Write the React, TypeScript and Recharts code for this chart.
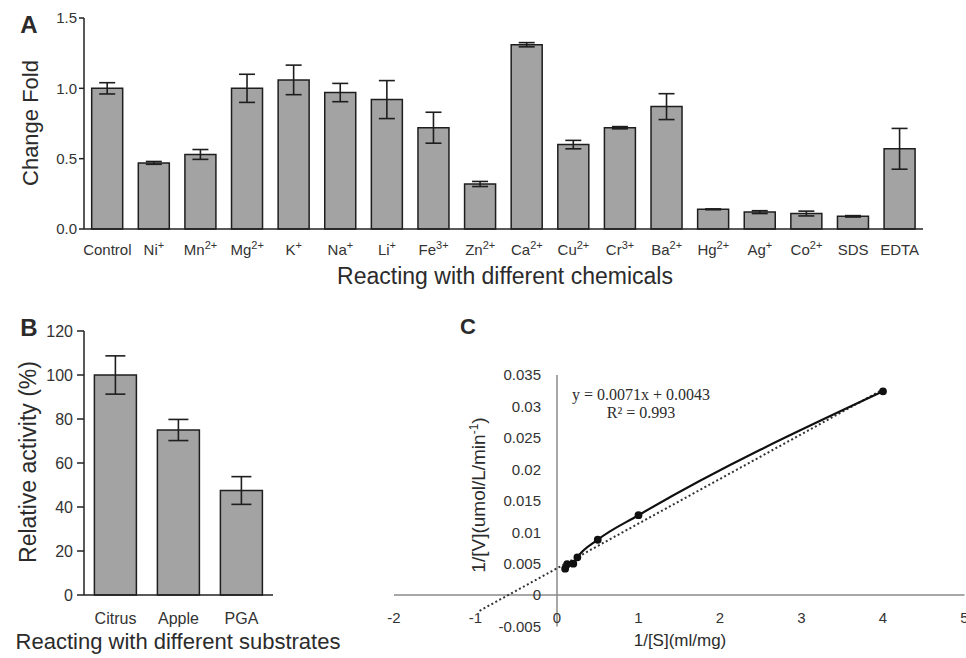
import React from "react";
import {
  BarChart,
  Bar,
  XAxis,
  YAxis,
  ErrorBar,
  ComposedChart,
  Line,
  ReferenceLine,
  ReferenceDot,
} from "recharts";

// panel A - metal ions / chemicals
const chemNames = ["Control", "Ni", "Mn", "Mg", "K", "Na", "Li", "Fe", "Zn", "Ca", "Cu", "Cr", "Ba", "Hg", "Ag", "Co", "SDS", "EDTA"];
const chemCharges = ["", "+", "2+", "2+", "+", "+", "+", "3+", "2+", "2+", "2+", "3+", "2+", "2+", "+", "2+", "", ""];
const foldValues = [1.0, 0.47, 0.53, 1.0, 1.06, 0.97, 0.92, 0.72, 0.32, 1.31, 0.6, 0.72, 0.87, 0.14, 0.12, 0.11, 0.09, 0.57];
const foldErrors = [0.04, 0.01, 0.035, 0.1, 0.105, 0.065, 0.135, 0.11, 0.018, 0.015, 0.03, 0.008, 0.092, 0.003, 0.01, 0.017, 0.005, 0.145];
const foldTicks = [0, 0.5, 1.0, 1.5];

// panel B - substrates
const substrates = ["Citrus", "Apple", "PGA"];
const activityValues = [100, 75, 47.5];
const activityErrors = [8.7, 4.8, 6.3];
const activityTicks = [0, 20, 40, 60, 80, 100, 120];

// panel C - Lineweaver-Burk
const invS = [0.1, 0.125, 0.2, 0.25, 0.5, 1, 4];
const invV = [0.0042, 0.0049, 0.005, 0.006, 0.0088, 0.0127, 0.0324];
const trendX = [-0.95, 4];
const trendY = [-0.0025, 0.0327];
const kinXTicks = [-2, -1, 0, 1, 2, 3, 4, 5];
const kinYTicks = [-0.005, 0, 0.005, 0.01, 0.015, 0.02, 0.025, 0.03, 0.035];

const foldData = chemNames.map((n, i) => ({ name: n, value: foldValues[i], err: foldErrors[i] }));
const activityData = substrates.map((n, i) => ({ name: n, value: activityValues[i], err: activityErrors[i] }));
const kinData = invS.map((x, i) => ({ x, y: invV[i] }));
const trendData = trendX.map((x, i) => ({ x, y: trendY[i] }));

const SANS = "'Liberation Sans', Arial, sans-serif";
const INK = "#2b2b2b";

const ChemTick = (props: any) => {
  const { x, y, payload } = props;
  const i = chemNames.indexOf(payload.value);
  return (
    <text x={x} y={y} dy={24} textAnchor="middle" fill="#333" fontSize={15} fontFamily={SANS}>
      {chemNames[i]}
      {chemCharges[i] ? (
        <tspan dy={-6} fontSize={11}>
          {chemCharges[i]}
        </tspan>
      ) : null}
    </text>
  );
};

const SubTick = (props: any) => {
  const { x, y, payload } = props;
  return (
    <text x={x} y={y} dy={27} textAnchor="middle" fill="#333" fontSize={16} fontFamily={SANS}>
      {payload.value}
    </text>
  );
};

const Caption = ({ x, y, size, bold, rotate, serif, children }: any) => (
  <div
    style={{
      position: "absolute",
      left: x,
      top: y,
      transform: `translate(-50%, -50%)${rotate ? " rotate(-90deg)" : ""}`,
      fontSize: size,
      fontWeight: bold ? 700 : 400,
      whiteSpace: "nowrap",
      lineHeight: 1,
      color: INK,
      fontFamily: serif ? "'Liberation Serif', 'Times New Roman', serif" : SANS,
    }}
  >
    {children}
  </div>
);

export default function App() {
  return (
    <div
      style={{
        position: "absolute",
        left: 0,
        top: 0,
        width: 966,
        height: 658,
        background: "#fff",
        overflow: "hidden",
        fontFamily: SANS,
      }}
    >
      {/* A */}
      <div style={{ position: "absolute", left: 0, top: 0 }}>
        <BarChart
          width={966}
          height={300}
          data={foldData}
          margin={{ top: 18, right: 43, bottom: 41, left: 34 }}
          barCategoryGap="16.5%"
        >
          <XAxis
            dataKey="name"
            height={30}
            tickLine={false}
            tickSize={0}
            tick={<ChemTick />}
            interval={0}
            axisLine={{ stroke: "#222", strokeWidth: 1.5 }}
          />
          <YAxis
            width={50}
            domain={[0, 1.5]}
            ticks={foldTicks}
            tickFormatter={(v) => v.toFixed(1)}
            tickSize={5}
            tickMargin={2}
            tick={{ fill: "#333", fontSize: 15, fontFamily: SANS }}
            tickLine={{ stroke: "#222", strokeWidth: 1.5 }}
            axisLine={{ stroke: "#222", strokeWidth: 1.5 }}
          />
          <Bar dataKey="value" fill="#a3a3a3" stroke="#1e1e1e" strokeWidth={1.5} isAnimationActive={false}>
            <ErrorBar dataKey="err" width={8} stroke="#1e1e1e" strokeWidth={1.6} />
          </Bar>
        </BarChart>
      </div>

      {/* B */}
      <div style={{ position: "absolute", left: 0, top: 300 }}>
        <BarChart
          width={370}
          height={358}
          data={activityData}
          margin={{ top: 31, right: 97, bottom: 33, left: 34 }}
          barCategoryGap="16.5%"
        >
          <XAxis
            dataKey="name"
            height={30}
            tickLine={false}
            tickSize={0}
            tick={<SubTick />}
            axisLine={{ stroke: "#222", strokeWidth: 1.5 }}
          />
          <YAxis
            width={50}
            domain={[0, 120]}
            ticks={activityTicks}
            tickSize={7}
            tickMargin={4}
            tick={{ fill: "#333", fontSize: 16, fontFamily: SANS }}
            tickLine={{ stroke: "#222", strokeWidth: 1.5 }}
            axisLine={{ stroke: "#222", strokeWidth: 1.5 }}
          />
          <Bar dataKey="value" fill="#a3a3a3" stroke="#1e1e1e" strokeWidth={1.5} isAnimationActive={false}>
            <ErrorBar dataKey="err" width={10} stroke="#1e1e1e" strokeWidth={1.6} />
          </Bar>
        </BarChart>
      </div>

      {/* C */}
      <div style={{ position: "absolute", left: 370, top: 300 }}>
        <ComposedChart width={596} height={358} margin={{ top: 75, right: 1.5, bottom: 31.5, left: 24 }}>
          <XAxis type="number" dataKey="x" domain={[-2, 5]} ticks={kinXTicks} hide allowDataOverflow />
          <YAxis type="number" dataKey="y" domain={[-0.005, 0.035]} ticks={kinYTicks} hide allowDataOverflow />
          <ReferenceLine x={0} stroke="#8a8a8a" strokeWidth={1.5} />
          <ReferenceLine y={0} stroke="#8a8a8a" strokeWidth={1.5} />
          {kinYTicks.map((v) => (
            <ReferenceDot
              key={"y" + v}
              x={0}
              y={v}
              r={0}
              ifOverflow="visible"
              fill="none"
              stroke="none"
              label={{ value: String(v), position: "left", offset: 16, fill: "#333", fontSize: 15, fontFamily: SANS }}
            />
          ))}
          {kinXTicks.map((v) => (
            <ReferenceDot
              key={"x" + v}
              x={v}
              y={0}
              r={0}
              ifOverflow="visible"
              fill="none"
              stroke="none"
              label={{ value: String(v), position: "bottom", offset: 17, fill: "#333", fontSize: 15, fontFamily: SANS }}
            />
          ))}
          <Line
            data={trendData}
            dataKey="y"
            type="linear"
            stroke="#333"
            strokeWidth={2}
            strokeDasharray="2 2.5"
            dot={false}
            isAnimationActive={false}
          />
          <Line
            data={kinData}
            dataKey="y"
            type="monotone"
            stroke="#111"
            strokeWidth={2.2}
            dot={{ r: 2.8, fill: "#111", stroke: "#111" }}
            isAnimationActive={false}
          />
        </ComposedChart>
      </div>

      <Caption x={29} y={25} size={24} bold>A</Caption>
      <Caption x={31} y={123} size={22} rotate>Change Fold</Caption>
      <Caption x={505} y={276} size={23}>Reacting with different chemicals</Caption>

      <Caption x={29} y={328} size={24} bold>B</Caption>
      <Caption x={28} y={462} size={23} rotate>Relative activity (%)</Caption>
      <Caption x={178} y={642} size={22}>Reacting with different substrates</Caption>

      <Caption x={468} y={327} size={22} bold>C</Caption>
      <Caption x={478} y={495} size={19} rotate>
        1/[V](umol/L/min<sup style={{ fontSize: 12 }}>-1</sup>)
      </Caption>
      <Caption x={680} y={640} size={17}>1/[S](ml/mg)</Caption>
      <Caption x={641} y={395} size={16} serif>y = 0.0071x + 0.0043</Caption>
      <Caption x={641} y={413} size={16} serif>R² = 0.993</Caption>
    </div>
  );
}
